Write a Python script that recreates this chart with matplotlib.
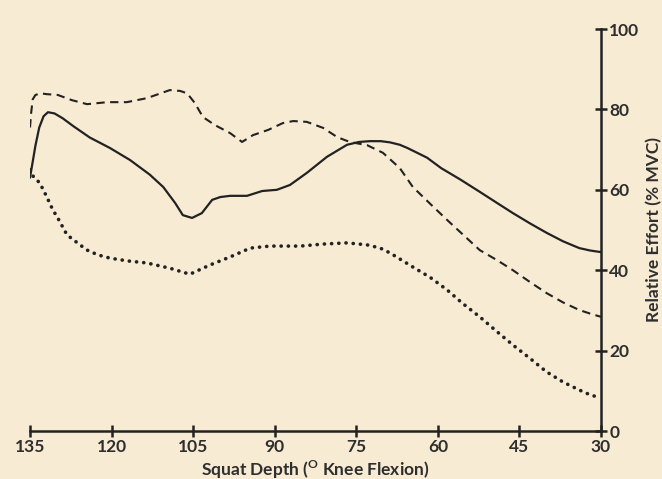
import matplotlib
matplotlib.use("Agg")
import matplotlib.pyplot as plt

# kolenski kot (stopinje) in relativni napor (% MVC) za tri krivulje
x_polna = [135, 134.5, 134, 133.3, 132.5, 131.7, 130.5, 129, 127, 124, 120.3, 116.6, 113, 110.5,
           108.3, 106.9, 105.2, 103.4, 101.5, 100, 98.2, 95.1, 92.3, 89.6, 87.2, 84.1, 80.4, 76.7,
           74.5, 72.5, 70.5, 68.8, 67, 65.6, 62, 59.4, 55.8, 52.3, 49.2, 46.2, 43, 40, 37, 34, 32, 30]
y_polna = [63, 67, 71, 75.5, 78.3, 79.3, 79, 77.8, 75.8, 73, 70.4, 67.4, 63.8, 60.7,
           56.7, 53.7, 53, 54.2, 57.5, 58.2, 58.5, 58.5, 59.7, 60, 61.2, 64.2, 68.2, 71.2,
           71.9, 72.1, 72.1, 71.8, 71.2, 70.4, 68, 65.4, 62.5, 59.5, 56.8, 54.2, 51.6, 49.3, 47.2, 45.5, 44.9, 44.5]

x_crtkana = [135, 134.8, 134.5, 134, 133, 132, 129.9, 127.3, 124.5, 120.8, 117.2, 113.5, 109.3,
             107.4, 106.1, 104.7, 103.2, 101, 98.2, 96, 94, 91.2, 88.5, 86.6, 84.1, 81.1, 78.5,
             76.2, 73, 70.1, 67, 64.6, 61.4, 58.3, 55.9, 52.3, 49, 46.2, 43, 40, 37, 34, 32, 30]
y_crtkana = [75.5, 79, 82.5, 83.6, 84, 83.8, 83.6, 82.3, 81.3, 81.8, 81.8, 82.8, 84.8,
             84.6, 84, 81.6, 78.1, 76.1, 74.1, 71.9, 73.6, 74.9, 76.6, 77.1, 76.9, 75.4, 73.1,
             71.9, 71.1, 69.2, 65.4, 60.7, 56.5, 52.5, 49.5, 45, 42.4, 40, 37, 34.3, 32, 30.1, 29.2, 28.4]

x_pikcasta = [135, 134.5, 133.8, 133.2, 131.9, 130.8, 129.9, 128.2, 126, 124.5, 122.5, 120.3, 117,
              113.5, 109.3, 105.6, 101.9, 98.2, 94.5, 90.9, 85.3, 81.1, 76.7, 73, 70.6, 68.8,
              64.6, 61.4, 58.3, 55.5, 52.3, 49.2, 46.2, 43, 40, 37, 34, 32, 30]
y_pikcasta = [65, 63.5, 62.5, 61.7, 58.2, 55, 53, 48.8, 46.5, 45, 43.8, 43, 42.3,
              41.8, 40.5, 39, 41.3, 43.3, 45.5, 46, 46, 46.5, 46.8, 46.3, 45.5, 44.3,
              40.8, 38.2, 35.1, 31.8, 28.4, 24.8, 21.4, 18, 14.7, 12.2, 10.2, 9, 8.2]

x_oznake = [135, 120, 105, 90, 75, 60, 45, 30]
y_oznake = [0, 20, 40, 60, 80, 100]

ozadje = '#f8ebd4'
crna = '#222222'
besedilo = '#2e2e2e'

plt.rcParams['font.family'] = ['Lato', 'DejaVu Sans']
plt.rcParams['font.weight'] = 'bold'
plt.rcParams['mathtext.fontset'] = 'custom'
plt.rcParams['mathtext.rm'] = 'Lato:bold'
plt.rcParams['mathtext.bf'] = 'Lato:bold'

fig = plt.figure(figsize=(6.62, 4.79), dpi=100, facecolor=ozadje)
ax = fig.add_axes([30/662, 48/479, 571/662, 402/479])
ax.set_facecolor(ozadje)

ax.plot(x_polna, y_polna, color=crna, lw=1.6, solid_capstyle='round')
ax.plot(x_crtkana, y_crtkana, color=crna, lw=1.5, linestyle=(0, (4, 2.6)))
ax.plot(x_pikcasta, y_pikcasta, color=crna, lw=2.6, linestyle=(0, (0.05, 1.95)),
        dash_capstyle='round')

ax.set_xlim(135, 30)
ax.set_ylim(0, 100)

for s in ['top', 'left']:
    ax.spines[s].set_visible(False)
for s in ['bottom', 'right']:
    ax.spines[s].set_linewidth(1.8)
    ax.spines[s].set_color(crna)

ax.yaxis.tick_right()
ax.set_xticks(x_oznake)
ax.set_yticks(y_oznake)
ax.tick_params(axis='both', direction='inout', length=8, width=1.8, color=crna,
               labelsize=12.5, labelcolor=besedilo, pad=2)

ax.set_xlabel(r'Squat Depth ($^{\mathrm{O}}$ Knee Flexion)', fontsize=12.5,
              fontweight='bold', color=besedilo, labelpad=2)
# oznaka y osi desno od osi
fig.text(654/662, 1 - 230/479, 'Relative Effort (% MVC)', rotation=90, ha='center',
         va='center', fontsize=12.5, fontweight='bold', color=besedilo)

fig.savefig('out.png', dpi=100, facecolor=ozadje)
